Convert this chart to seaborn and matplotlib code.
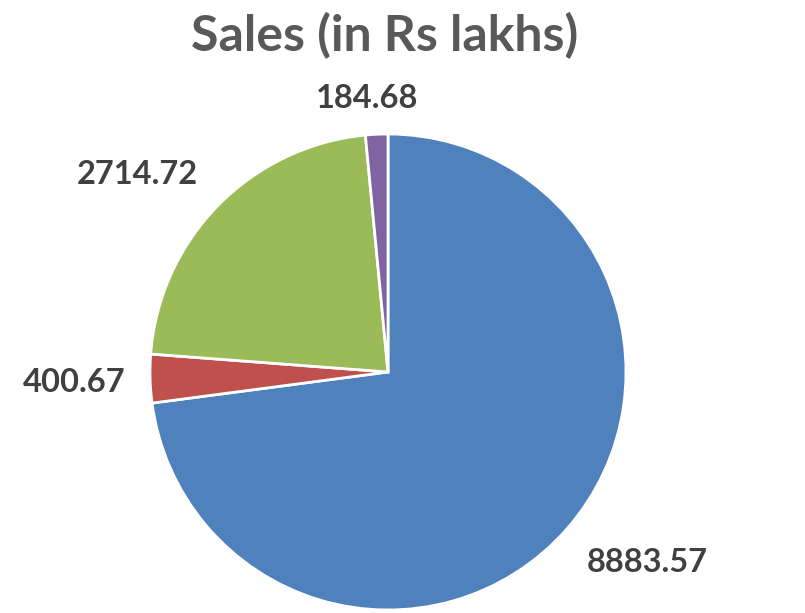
import matplotlib
matplotlib.use("Agg")
import matplotlib.pyplot as plt
import seaborn as sns

# Data
categories = ["A", "B", "C", "D"]
sales = [8883.57, 400.67, 2714.72, 184.68]
value_labels = ["8883.57", "400.67", "2714.72", "184.68"]
colors = ["#4F81BD", "#C0504D", "#9BBB59", "#8064A2"]

sns.set_theme(style="white")
plt.rcParams["font.family"] = ["Lato", "DejaVu Sans"]

fig = plt.figure(figsize=(8.05, 6.13), dpi=100)
ax = fig.add_axes([150 / 805, 3 / 613, 476 / 805, 476 / 613])

wedges, texts = ax.pie(
    sales,
    colors=colors,
    startangle=90,
    counterclock=False,
    labels=value_labels,
    wedgeprops=dict(edgecolor="white", linewidth=2),
    textprops=dict(fontsize=23.5, fontweight="bold", color="#404040"),
)
ax.set_xlim(-1, 1)
ax.set_ylim(-1, 1)
ax.set_aspect("equal")

# label spots as placed in the original (best-fit outside)
label_pos = [(1.09, -0.80), (-1.32, -0.045), (-1.055, 0.83), (-0.09, 1.15)]
for t, (x, y) in zip(texts, label_pos):
    t.set_position((x, y))
    t.set_ha("center")
    t.set_va("center")

fig.text(0.478, 0.942, "Sales (in Rs lakhs)", ha="center", va="center",
         fontsize=36, fontweight="bold", color="#595959")

fig.savefig("out.png", dpi=100)
